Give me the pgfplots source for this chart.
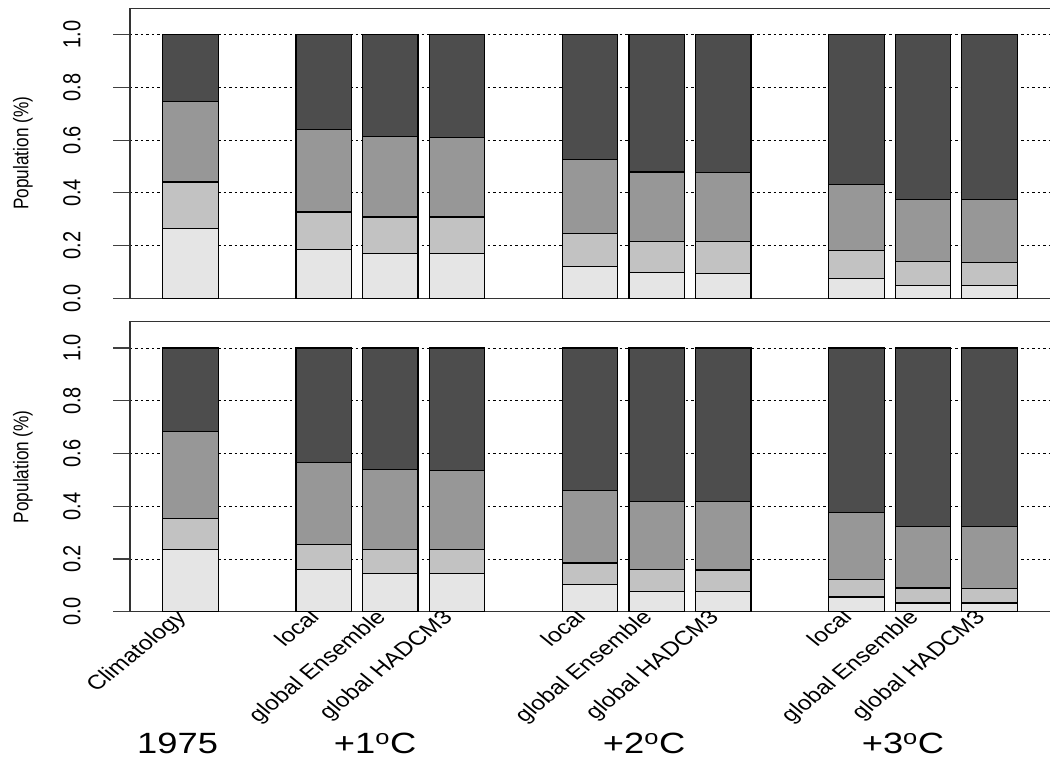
\documentclass[border=0pt]{standalone}
\usepackage{fontspec}
\setmainfont{Liberation Sans}
\usepackage{graphicx}
\usepackage{pgfplots}
\pgfplotsset{compat=1.18}

\definecolor{segA}{HTML}{E5E5E5}
\definecolor{segB}{HTML}{C2C2C2}
\definecolor{segC}{HTML}{979797}
\definecolor{segD}{HTML}{4D4D4D}

% rotated labels are set a little taller, so they read wider on the page
\newcommand{\tallbox}[1]{\scalebox{1}[1.23]{#1}}

\pgfplotsset{
  popbars/.style={
    scale only axis, width=924.8pt, height=290pt,
    xmin=-0.91, xmax=12.98, ymin=0, ymax=1.1,
    ytick pos=left,
    ybar stacked, bar width=0.833,
    ytick={0,0.2,0.4,0.6,0.8,1.0},
    ymajorgrids,
    grid style={black, line width=0.9pt, dash pattern=on 2.5pt off 3pt},
    ytick align=outside, xtick align=inside, major tick length=17pt,
    ytick style={black!75, line width=1.2pt},
    xtick={0,2,3,4,6,7,8,10,11,12},
    xtick style={draw=none},
    axis line style={black!80, line width=1.2pt},
    % the raised box keeps the numbers clear of the outside tick marks
    yticklabel={\raisebox{29pt}{\tallbox{\pgfmathprintnumber{\tick}}}},
    yticklabel style={rotate=90, anchor=south, font=\fontsize{20}{24}\selectfont,
      /pgf/number format/.cd, fixed, fixed zerofill, precision=1, assume math mode=true},
    ylabel={\tallbox{Population (\%)}},
    every axis y label/.style={at={(axis description cs:-0.1157,0.5)}, rotate=90, anchor=center, font=\fontsize{17.2}{20}\selectfont},
    every axis plot/.append style={draw=black, line width=1.2pt},
    clip=false,
  }
}

\begin{document}
\begin{tikzpicture}
\useasboundingbox (0,0) rectangle (1050pt,757pt);

% upper panel
\begin{axis}[popbars, at={(130pt,458.7pt)}, anchor=south west, xticklabels={}]
\addplot[fill=segA] coordinates {(0,0.265) (2,0.185) (3,0.170) (4,0.169) (6,0.122) (7,0.097) (8,0.094) (10,0.074) (11,0.050) (12,0.049)};
\addplot[fill=segB] coordinates {(0,0.176) (2,0.142) (3,0.138) (4,0.139) (6,0.124) (7,0.118) (8,0.121) (10,0.107) (11,0.090) (12,0.088)};
\addplot[fill=segC] coordinates {(0,0.304) (2,0.312) (3,0.305) (4,0.302) (6,0.280) (7,0.264) (8,0.261) (10,0.251) (11,0.235) (12,0.237)};
\addplot[fill=segD] coordinates {(0,0.255) (2,0.361) (3,0.387) (4,0.390) (6,0.474) (7,0.521) (8,0.524) (10,0.568) (11,0.625) (12,0.626)};
\end{axis}

% lower panel
\begin{axis}[popbars, at={(130pt,145.3pt)}, anchor=south west,
  xticklabels={Climatology, local, global Ensemble, global HADCM3, local, global Ensemble, global HADCM3, local, global Ensemble, global HADCM3},
  xticklabel style={xshift=-16pt, yshift=5pt, xscale=1.23, rotate=45, anchor=north east, inner sep=1pt, font=\fontsize{20}{24}\selectfont}]
\addplot[fill=segA] coordinates {(0,0.235) (2,0.161) (3,0.146) (4,0.146) (6,0.104) (7,0.078) (8,0.077) (10,0.056) (11,0.033) (12,0.033)};
\addplot[fill=segB] coordinates {(0,0.118) (2,0.095) (3,0.091) (4,0.091) (6,0.081) (7,0.081) (8,0.081) (10,0.067) (11,0.057) (12,0.054)};
\addplot[fill=segC] coordinates {(0,0.331) (2,0.310) (3,0.302) (4,0.300) (6,0.274) (7,0.259) (8,0.260) (10,0.254) (11,0.233) (12,0.236)};
\addplot[fill=segD] coordinates {(0,0.316) (2,0.434) (3,0.461) (4,0.463) (6,0.541) (7,0.582) (8,0.582) (10,0.623) (11,0.677) (12,0.677)};
\node[anchor=base, xscale=1.24, font=\fontsize{29.3}{35}\selectfont] at (axis cs:-0.195,-0.537) {1975};
\node[anchor=base, xscale=1.24, font=\fontsize{29.3}{35}\selectfont] at (axis cs:2.771,-0.537) {+1\textsuperscript{o}C};
\node[anchor=base, xscale=1.24, font=\fontsize{29.3}{35}\selectfont] at (axis cs:6.811,-0.537) {+2\textsuperscript{o}C};
\node[anchor=base, xscale=1.24, font=\fontsize{29.3}{35}\selectfont] at (axis cs:10.70,-0.537) {+3\textsuperscript{o}C};
\end{axis}
\end{tikzpicture}
\end{document}
